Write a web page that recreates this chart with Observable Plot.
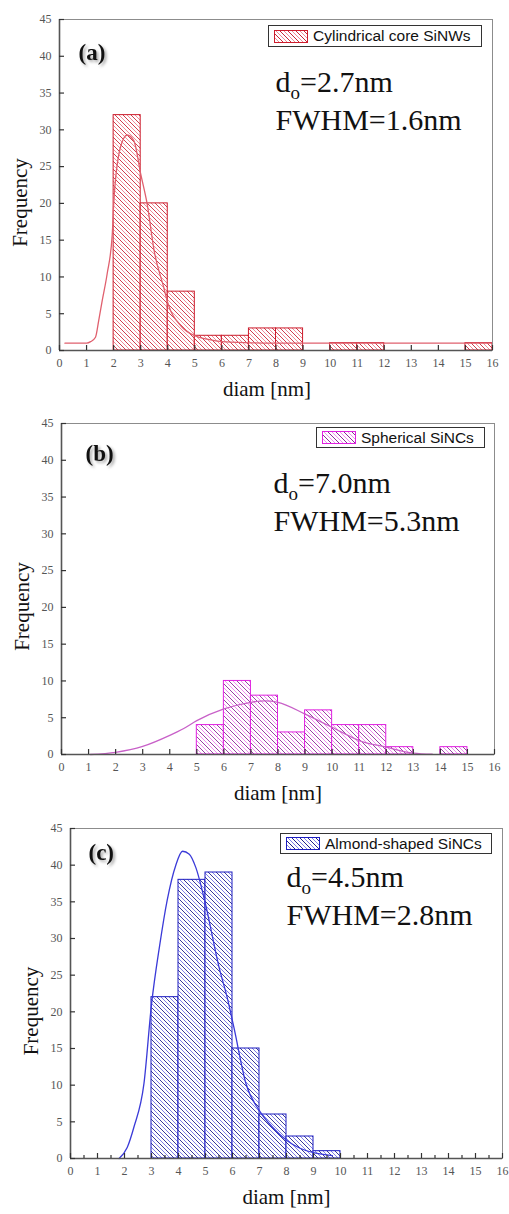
<!DOCTYPE html>
<html>
<head>
<meta charset="utf-8">
<script src="https://cdn.jsdelivr.net/npm/d3@7"></script>
<script src="https://cdn.jsdelivr.net/npm/@observablehq/plot@0.6"></script>
<style>
  html, body { margin: 0; padding: 0; background: #fff; }
  .panel { position: relative; width: 509px; }
  .panel svg { display: block; }
  .panel svg text, .panel svg tspan { font-family: "Liberation Serif", "Times New Roman", Times, serif; }
  .legend { position: absolute; box-sizing: border-box; border: 1px solid #333; background: #fff;
            font-family: "Liberation Sans", Arial, sans-serif; font-size: 15.5px; color: #111;
            display: flex; align-items: center; white-space: nowrap; }
  .swatch { display: inline-block; box-sizing: border-box; width: 34px; height: 13px; margin: 0 5px 0 5px; }
</style>
</head>
<body>
<div id="root"></div>
<script>
// ---------- data ----------
const xTicks = [0,1,2,3,4,5,6,7,8,9,10,11,12,13,14,15,16];
const yTicks = [0,5,10,15,20,25,30,35,40,45];
const minorTicksC = [0.5,1.5,2.5,3.5,4.5,5.5,6.5,7.5,8.5,9.5,10.5,11.5,12.5,13.5,14.5,15.5];
const binWidth = 1;

// (a) Cylindrical core SiNWs
const binStartA = [2,3,4,5,6,7,8,10,11,15];
const countA    = [32,20,8,2,2,3,3,1,1,1];
const fitXA = [0.2,1.0,1.15,1.33,1.45,1.58,1.76,1.95,2.0,2.25,2.5,2.75,3.0,3.24,3.5,3.85,4.0,4.5,5.0,5.5,6.0,7.0,8.0,16.0];
const fitYA = [1,1,1.2,1.8,4.1,6.8,10.4,15.8,19.8,27.6,29.3,28.5,24.0,19.9,13.5,8.6,6.5,3.3,2.0,1.5,1.2,1.05,1.0,1.0];

// (b) Spherical SiNCs
const binStartB = [5,6,7,8,9,10,11,12,14];
const countB    = [4,10,8,3,6,4,4,1,1];
const fitXB = [1.07,2,3,4,4.5,5,6,7,7.5,8,9,10,11,12,13,13.7];
const fitYB = [0,0.3,1.1,2.6,3.5,4.6,6.2,7.1,7.3,7.1,5.5,3.7,1.9,1.0,0.2,0.05];

// (c) Almond-shaped SiNCs
const binStartC = [3,4,5,6,7,8,9];
const countC    = [22,38,39,15,6,3,1];
const fitXC = [1.8,2.1,2.35,2.72,3.0,3.3,3.58,3.9,4.15,4.4,4.64,5.0,5.5,5.8,6.05,6.5,7.0,7.5,8.0,8.5,9.0,9.7];
const fitYC = [0,1.5,4.3,10.2,21,29,35.2,40,41.9,41.5,39.7,34.7,26.1,22,17.9,10.2,6.5,4.2,2.5,1.4,0.8,0.4];

const panels = [
  {id:"A", tag:"(a)", legend:"Cylindrical core SiNWs", d0:"2.7nm", fwhm:"FWHM=1.6nm",
   bins:binStartA, counts:countA, fx:fitXA, fy:fitYA,
   height:404, mt:19, mb:54, ml:59, mr:17,
   light:"#f08c98", dark:"#c8283a", edge:"#cc1c2c", fit:"#e0606e",
   tagDx:19, tagDy:33, txtDx:216, d0Dy:63, fwDy:101, legLeft:268, legTop:25, legW:214, legH:22,
   xLabDx:-9, minor:false},
  {id:"B", tag:"(b)", legend:"Spherical SiNCs", d0:"7.0nm", fwhm:"FWHM=5.3nm",
   bins:binStartB, counts:countB, fx:fitXB, fy:fitYB,
   height:404, mt:19, mb:54, ml:61, mr:15,
   light:"#f08cf0", dark:"#8a2c96", edge:"#e020e0", fit:"#c860c8",
   tagDx:24, tagDy:30.5, txtDx:212, d0Dy:60, fwDy:98, legLeft:316, legTop:23, legW:169, legH:21,
   xLabDx:0, minor:false},
  {id:"C", tag:"(c)", legend:"Almond-shaped SiNCs", d0:"4.5nm", fwhm:"FWHM=2.8nm",
   bins:binStartC, counts:countC, fx:fitXC, fy:fitYC,
   height:406, mt:20, mb:56, ml:70, mr:7,
   light:"#8080e8", dark:"#22228a", edge:"#1c1cc0", fit:"#3a3ad8",
   tagDx:18, tagDy:24, txtDx:216, d0Dy:49, fwDy:87, legLeft:280, legTop:25, legW:212, legH:21,
   xLabDx:0, minor:true}
];

const serif = "Liberation Serif";
const root = document.getElementById("root");

for (const p of panels) {
  const bars = p.bins.map((b, i) => ({x1: b, x2: b + binWidth, count: p.counts[i]}));
  const fit = p.fx.map((x, i) => ({x, y: p.fy[i]}));
  const doText = "do=" + p.d0;
  const txt = {fontFamily: serif, fill: "#111", lineAnchor: "middle"};
  const marks = [
    Plot.rectY(bars, {x1: "x1", x2: "x2", y1: 0, y2: "count", fill: `url(#hatch${p.id})`, stroke: p.edge, strokeWidth: 1}),
    Plot.line(fit, {x: "x", y: "y", stroke: p.fit, strokeWidth: 1.3, curve: "monotone-x"}),
    Plot.frame({stroke: "#8c8c8c", strokeWidth: 1}),
    Plot.ruleX([0], {stroke: "#555", strokeWidth: 1.6}),
    Plot.ruleY([0], {stroke: "#555", strokeWidth: 1.6}),
    Plot.axisX({ticks: xTicks, tickSize: 0, tickPadding: 8, label: null, fontSize: 12, fill: "#555", fontFamily: serif}),
    Plot.axisX({ticks: xTicks, tickSize: 5, dy: -5, tickFormat: () => "", label: null, stroke: "#333", strokeWidth: 1.2}),
    Plot.axisY({ticks: yTicks, tickSize: 0, tickPadding: 8, label: null, fontSize: 12, fill: "#555", fontFamily: serif}),
    Plot.axisY({ticks: yTicks, tickSize: 5, dx: 5, tickFormat: () => "", label: null, stroke: "#333", strokeWidth: 1.2}),
    Plot.text(["Frequency"], {...txt, frameAnchor: "left", textAnchor: "middle", rotate: -90, dx: -39, dy: 17.5, fontSize: 21}),
    Plot.text(["diam [nm]"], {...txt, frameAnchor: "bottom", textAnchor: "middle", dx: p.xLabDx, dy: 39, fontSize: 21}),
    Plot.text([p.tag], {...txt, frameAnchor: "top-left", textAnchor: "start", dx: p.tagDx, dy: p.tagDy, fontSize: 23, fontWeight: "bold"}),
    Plot.text([doText], {...txt, frameAnchor: "top-left", textAnchor: "start", dx: p.txtDx, dy: p.d0Dy, fontSize: 30}),
    Plot.text([p.fwhm], {...txt, frameAnchor: "top-left", textAnchor: "start", dx: p.txtDx, dy: p.fwDy, fontSize: 30})
  ];
  if (p.minor) marks.push(Plot.axisX({ticks: minorTicksC, tickSize: 3, dy: -3, tickFormat: () => "", label: null, stroke: "#333", strokeWidth: 1.2}));

  const svg = Plot.plot({
    width: 509, height: p.height,
    marginTop: p.mt, marginBottom: p.mb, marginLeft: p.ml, marginRight: p.mr,
    x: {domain: [0, 16]},
    y: {domain: [0, 45]},
    style: {background: "white", fontFamily: serif},
    marks
  });

  // hatch pattern definition
  const defs = d3.select(svg).insert("defs", ":first-child");
  const pat = defs.append("pattern").attr("id", "hatch" + p.id)
    .attr("patternUnits", "userSpaceOnUse").attr("width", 8).attr("height", 8);
  pat.append("rect").attr("width", 8).attr("height", 8).attr("fill", "white");
  pat.append("path").attr("d", "M-1,-1L9,9").attr("stroke", p.dark).attr("stroke-width", 0.9);
  pat.append("path").attr("d", "M-1,3L5,9M3,-1L9,5").attr("stroke", p.light).attr("stroke-width", 1);

  // subscript o in d_o, shadow on tag
  d3.select(svg).selectAll("text").each(function() {
    const t = d3.select(this);
    if (this.textContent === doText) {
      this.textContent = "";
      t.append("tspan").text("d");
      t.append("tspan").text("o").attr("font-size", 19).attr("dy", 7);
      t.append("tspan").text("=" + p.d0).attr("dy", -7);
    } else if (this.textContent === p.tag) {
      t.style("filter", "drop-shadow(2px 2px 1.5px rgba(0,0,0,0.35))");
    }
  });

  const div = document.createElement("div");
  div.className = "panel";
  div.style.height = p.height + "px";
  div.appendChild(svg);
  const leg = document.createElement("div");
  leg.className = "legend";
  Object.assign(leg.style, {left: p.legLeft + "px", top: p.legTop + "px", width: p.legW + "px", height: p.legH + "px"});
  const sw = document.createElement("span");
  sw.className = "swatch";
  sw.style.border = "1px solid " + p.edge;
  sw.style.background = `repeating-linear-gradient(45deg, ${p.dark} 0px, ${p.dark} 0.7px, #fff 0.7px, #fff 2.8px, ${p.light} 2.8px, ${p.light} 3.5px, #fff 3.5px, #fff 5.6px)`;
  leg.appendChild(sw);
  const lt = document.createElement("span");
  lt.textContent = p.legend;
  leg.appendChild(lt);
  div.appendChild(leg);
  root.appendChild(div);
}
</script>
</body>
</html>
